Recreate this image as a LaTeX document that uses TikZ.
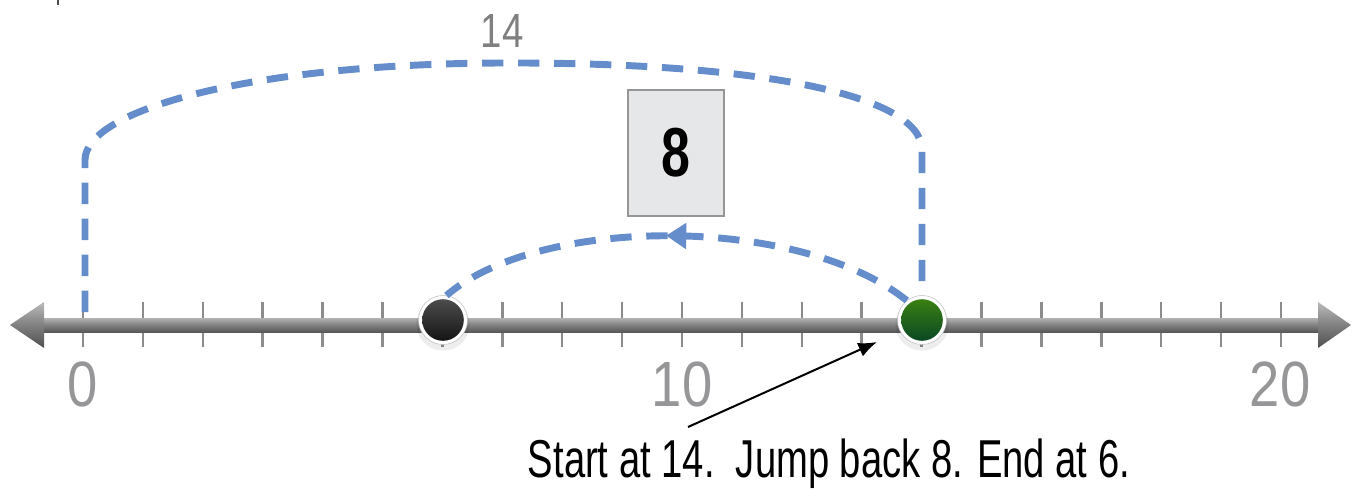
\documentclass[tikz,border=0pt]{standalone}
\usepackage{fontspec}
\setmainfont{Liberation Sans}
\usetikzlibrary{arrows.meta,decorations.markings}
\definecolor{jblue}{RGB}{101,141,203}
\definecolor{numgray}{RGB}{150,150,152}
\definecolor{tickgray}{RGB}{140,140,140}
\definecolor{boxfill}{RGB}{230,231,233}
\definecolor{boxline}{RGB}{150,150,150}
\definecolor{bartop}{RGB}{178,178,178}
\definecolor{barmid}{RGB}{128,128,128}
\definecolor{barbot}{RGB}{88,88,88}
\tikzset{
  tickmark/.style={draw=tickgray, line width=1.9pt},
  jump/.style={draw=jblue, line width=5.2pt, dash pattern=on 16pt off 11pt},
  numlabel/.style={text=numgray, inner sep=0pt, font=\fontsize{48}{48}\selectfont},
  dotring/.style={circle, minimum size=36.75pt, inner sep=0pt, fill=white, draw=black!25, line width=0.4pt},
  valbox/.style={draw=boxline, fill=boxfill, line width=1.5pt, minimum width=72pt, minimum height=94.5pt, inner sep=0pt},
  pointer/.style={draw=black, line width=1.5pt, -{Latex[length=14pt,width=11pt]}}
}
\begin{document}
\begin{tikzpicture}[x=0.75pt,y=-0.75pt]
\useasboundingbox (0,0) rectangle (1356,489);
% tiny mark top left
\draw[black!70, line width=1pt] (58,0) -- (58,5);
% ticks
\foreach \i in {0,...,20}{
  \draw[tickmark] ({83+59.9*\i},302) -- ({83+59.9*\i},347);
}
% axis bar and arrowheads
\shade[top color=bartop, bottom color=barbot, middle color=barmid] (42,318) rectangle (1322,332);
\shade[top color=bartop!90, bottom color=barbot!90!black, middle color=barmid] (10,325) -- (44,302) -- (44,348) -- cycle;
\shade[top color=bartop!90, bottom color=barbot!90!black, middle color=barmid] (1351,325) -- (1318,302) -- (1318,348) -- cycle;
% labels
\node[numlabel] (n0) at (83,384) {\scalebox{0.85}[1]{0}};
\node[numlabel] (n10) at (682,384) {\scalebox{0.85}[1]{10}};
\node[numlabel] (n20) at (1280,384) {\scalebox{0.85}[1]{20}};
% dots
\fill[black, opacity=0.07] (443,324) circle[radius=20pt];
\fill[black, opacity=0.07] (922,324) circle[radius=20pt];
\node[dotring] (six) at (443,320) {};
\node[dotring] (fourteen) at (922,320) {};
\shade[top color=black!70, bottom color=black!92] (six.center) circle[radius=15.6pt];
\shade[top color={rgb,255:red,58;green,128;blue,18}, bottom color={rgb,255:red,10;green,72;blue,36}] (fourteen.center) circle[radius=15.6pt];
% big jump
\coordinate (zero) at (85,312);
\draw[jump] (zero) -- (85,160) .. controls (85,110) and (250,64) .. (500,63)
  .. controls (760,62) and (922,95) .. (922,150) -- (fourteen.north);
\node[text=numgray!85!black, inner sep=0pt, font=\fontsize{36}{36}\selectfont] (lbl14) at (502,31) {\scalebox{0.8}[1]{14}};
% small jump
\draw[jump, postaction={decorate}, decoration={markings, mark=at position 0.5 with {\fill[jblue] (8pt,0pt) -- (-7pt,10pt) -- (-7pt,-10pt) -- cycle;}}]
  (fourteen.128) .. controls (800,215) and (540,215) .. (six.82);
\node[valbox] (eight) at (676,153) {};
\node[inner sep=0pt, font=\fontsize{52}{52}\selectfont\bfseries] (eighttxt) at (eight.center) {\scalebox{0.75}[1]{8}};
% caption and pointer
\node[anchor=base, inner sep=0pt, font=\fontsize{40}{40}\selectfont] (caption) at (829,477) {\scalebox{0.716}[1]{Start at 14.\ \ Jump back 8. End at 6.}};
\coordinate (ptr) at (688,427);
\coordinate (ptrend) at (877,342);
\draw[pointer] (ptr) -- (ptrend);
\end{tikzpicture}
\end{document}
